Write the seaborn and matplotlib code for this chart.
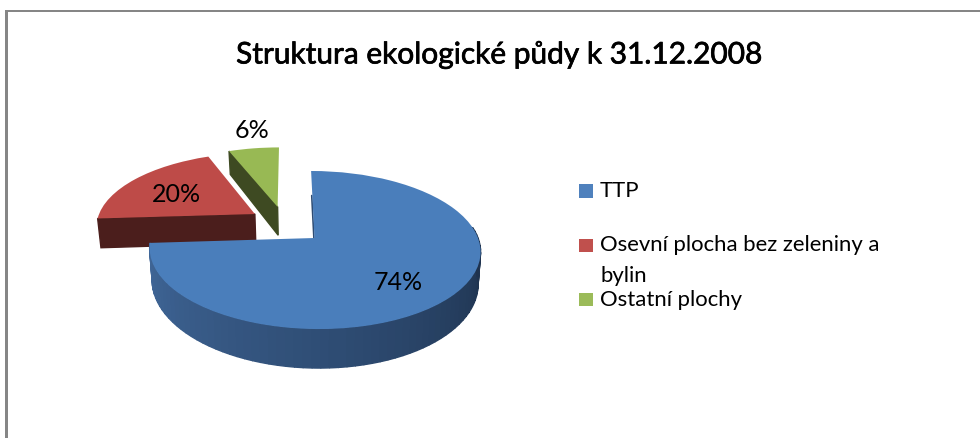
import numpy as np
import matplotlib
matplotlib.use("Agg")
import matplotlib.pyplot as plt
import matplotlib.patheffects as pe
import matplotlib.transforms as mtransforms
from matplotlib.patches import Rectangle
import seaborn as sns

categories = ["TTP", "Osevní plocha bez zeleniny a\nbylin", "Ostatní plochy"]
shares = [74, 20, 6]
title_text = "Struktura ekologické půdy k 31.12.2008"

top_colors = ["#4a7ebb", "#be4b48", "#98b954"]
legend_colors = ["#4f81bd", "#c0504d", "#9bbb59"]
wall_colors = ["#2e4c73", "#4b1e1c", "#3e4a22"]


class Tilt(mtransforms.Transform):
    """Lay the unit pie on a tilted plane, result is in figure pixels."""
    input_dims = 2
    output_dims = 2

    def __init__(self, drop=0.0, rx=163.5, ry=77.2):
        super().__init__()
        self.drop = drop
        self.rx = rx
        self.ry = ry

    def transform_non_affine(self, values):
        values = np.asarray(values, dtype=float)
        w = 1 + 0.152 * values[:, 1]
        px = 314.5 + self.rx * (values[:, 0] - 0.024 * values[:, 1]) / w
        py = 239 + self.drop - self.ry * values[:, 1] / w
        return np.column_stack([px, py])


sns.set_theme(style="white")
plt.rcParams["font.family"] = ["Lato", "DejaVu Sans"]

fig, ax = plt.subplots(figsize=(9.8, 4.39), dpi=100)
fig.subplots_adjust(left=0, right=1, bottom=0, top=1)

wedges, _ = ax.pie(shares, startangle=90, counterclock=False,
                   colors=sns.color_palette(top_colors))

ax.set_aspect("auto")
ax.set_xlim(0, 980)
ax.set_ylim(439, 0)
ax.set_axis_on()
ax.set_frame_on(False)

upper = Tilt()
lower = Tilt(drop=31, rx=161, ry=84)

# red and green are pulled out of the pie
wedge_centers = [(0, 0), (-0.375, 0.326), (-0.23, 0.428)]


def wall(pts, color, zorder):
    # one side strip of a slice, between the upper and lower rim
    top = upper.transform_non_affine(pts)
    bottom = lower.transform_non_affine(pts)
    ax.fill(np.r_[top[:, 0], bottom[::-1, 0]], np.r_[top[:, 1], bottom[::-1, 1]],
            color=color, lw=1.0, zorder=zorder)


# blue outer wall gets a left to right shading
n_strips = 70
shade = sns.blend_palette(["#41689a", "#2e4c73", "#1c2f49"], n_strips)
edges = np.radians(np.linspace(wedges[0].theta1, 8, n_strips + 1))
for i in range(n_strips):
    t = np.linspace(edges[i], edges[i + 1], 4)
    wall(np.column_stack([np.cos(t), np.sin(t)]), shade[i], 5)

# front cut faces of the pulled out slices
for i in [1, 2]:
    c = wedge_centers[i]
    th = np.radians(wedges[i].theta2)
    wall(np.array([c, (c[0] + np.cos(th), c[1] + np.sin(th))]), wall_colors[i], 2)

# thin dark sliver at the 12 o'clock cut of the blue slice
sliver = upper.transform_non_affine(np.array([(0, 0), (0, 0.6)]))
ax.plot(sliver[:, 0] - 0.6, sliver[:, 1], color=wall_colors[0], lw=1.2, zorder=5)

for i, w in enumerate(wedges):
    w.set_center(wedge_centers[i])
    w.set_transform(upper + ax.transData)
    w.set_linewidth(0)
    w.set_zorder(3 if i else 6)

# percent labels
label_pos = [(398, 283), (176, 195), (252, 131)]
for v, (lx, ly) in zip(shares, label_pos):
    ax.text(lx, ly, "{}%".format(v), fontsize=18, color="black",
            ha="center", va="center", zorder=8)

title = ax.text(499.5, 55, title_text, fontsize=21.5, color="black",
                ha="center", va="center")
title.set_path_effects([pe.withStroke(linewidth=0.5, foreground="black")])

# legend is uneven in the original, so it is placed by hand
marker_y = [192, 246.5, 300.5]
line_y = [[191], [245, 276], [300]]
ax.scatter([586] * 3, marker_y, marker="s", s=100, c=legend_colors, linewidths=0)
for name, ys in zip(categories, line_y):
    for line, ly in zip(name.split("\n"), ys):
        ax.text(600, ly, line, fontsize=15.9, color="black", ha="left", va="center")

# grey frame of the pasted chart
ax.add_patch(Rectangle((5, 11), 975, 1.5, color="#868686", lw=0))
ax.add_patch(Rectangle((5, 11), 3, 428, color="#868686", lw=0))

ax.set_xticks([])
ax.set_yticks([])
fig.savefig("out.png", dpi=100, facecolor="white")
